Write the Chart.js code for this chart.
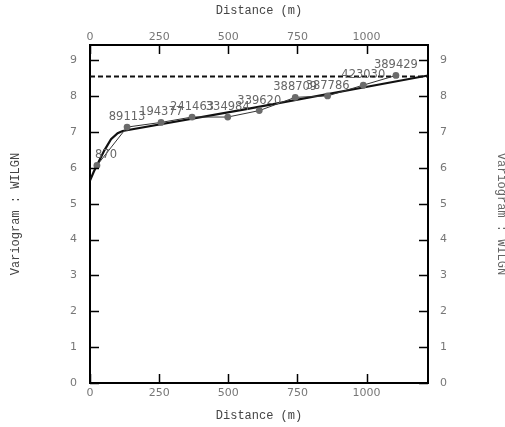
<!DOCTYPE html>
<html><head><meta charset="utf-8">
<script src="https://cdn.jsdelivr.net/npm/chart.js@4"></script>
<style>html,body{margin:0;padding:0;background:#fff}</style>
</head><body>
<canvas id="c" width="505" height="427"></canvas>
<script>
// Experimental variogram (lag distance, gamma, number of pairs)
const lagDistances = [25, 134, 257, 369, 498, 612, 742, 859, 988, 1106];
const lagGammas = [6.07, 7.14, 7.27, 7.42, 7.42, 7.60, 7.97, 8.01, 8.31, 8.58];
const pairCounts = ['870', '89113', '194377', '241463', '334984', '339620', '388709', '387786', '423030', '389429'];
// Fitted model curve
const modelDistances = [0, 14, 28, 52, 76, 100, 118, 570, 1222];
const modelGammas = [5.65, 5.9, 6.12, 6.49, 6.8, 6.97, 7.03, 7.65, 8.58];
// Sill (dashed)
const sillLevel = 8.55;
// Axes
const xMin = 0, xMax = 1222;
const yMin = 0, yMax = 9.43;
const xTickValues = [0, 250, 500, 750, 1000];
const yTickValues = [0, 1, 2, 3, 4, 5, 6, 7, 8, 9];
const xTitle = 'Distance (m)';
const yTitle = 'Variogram : WILGN';

const tickFont = {family: 'DejaVu Sans', size: 11};
const titleFont = {family: 'Liberation Mono', size: 12};
const tickColor = '#777';
const titleColor = '#444';

const expData = lagDistances.map((d, i) => ({x: d, y: lagGammas[i]}));
const modelData = modelDistances.map((d, i) => ({x: d, y: modelGammas[i]}));
const sillData = [{x: xMin, y: sillLevel}, {x: xMax, y: sillLevel}];

function setTicks(values) {
  return function (scale) {
    scale.ticks = values.map(v => ({value: v}));
  };
}
const plainLabel = v => String(v);

const inwardTicks = {
  id: 'inwardTicks',
  afterDraw(chart) {
    const ctx = chart.ctx, a = chart.chartArea, L = 9;
    ctx.save();
    ctx.strokeStyle = '#000';
    ctx.lineWidth = 1.5;
    const s = chart.scales;
    ctx.beginPath();
    s.x.ticks.forEach(t => { const p = Math.round(s.x.getPixelForValue(t.value)) + 0.5; ctx.moveTo(p, a.bottom); ctx.lineTo(p, a.bottom - L); });
    s.x2.ticks.forEach(t => { const p = Math.round(s.x2.getPixelForValue(t.value)) + 0.5; ctx.moveTo(p, a.top); ctx.lineTo(p, a.top + L); });
    s.y.ticks.forEach(t => { const p = Math.round(s.y.getPixelForValue(t.value)) + 0.5; ctx.moveTo(a.left, p); ctx.lineTo(a.left + L, p); });
    s.y2.ticks.forEach(t => { const p = Math.round(s.y2.getPixelForValue(t.value)) + 0.5; ctx.moveTo(a.right, p); ctx.lineTo(a.right - L, p); });
    ctx.stroke();
    ctx.restore();
  }
};

const pairLabels = {
  id: 'pairLabels',
  afterDatasetsDraw(chart) {
    const ctx = chart.ctx, a = chart.chartArea;
    const meta = chart.getDatasetMeta(0);
    ctx.save();
    ctx.font = '11.5px "DejaVu Sans"';
    ctx.fillStyle = '#666';
    ctx.textAlign = 'center';
    ctx.textBaseline = 'alphabetic';
    meta.data.forEach((pt, i) => {
      const w = ctx.measureText(pairCounts[i]).width;
      let x = pt.x;
      x = Math.max(x, a.left + 5 + w / 2);
      ctx.fillText(pairCounts[i], x, pt.y - 7);
    });
    ctx.restore();
  }
};

new Chart(document.getElementById('c'), {
  type: 'scatter',
  data: {
    datasets: [
      {
        data: expData, showLine: true, borderColor: '#333', borderWidth: 1,
        pointRadius: 3.4, pointBackgroundColor: '#6b6b6b', pointBorderWidth: 0, tension: 0
      },
      {
        data: modelData, showLine: true, borderColor: '#111', borderWidth: 2.2,
        pointRadius: 0, tension: 0
      },
      {
        data: sillData, showLine: true, borderColor: '#111', borderWidth: 2,
        borderDash: [5, 3], pointRadius: 0
      }
    ]
  },
  options: {
    responsive: false,
    animation: false,
    events: [],
    layout: {padding: 0},
    plugins: {legend: {display: false}, tooltip: {enabled: false}, title: {display: false}},
    scales: {
      x: {
        type: 'linear', position: 'bottom', min: xMin, max: xMax,
        afterBuildTicks: setTicks(xTickValues),
        afterFit(s) { s.height = 44; },
        ticks: {callback: plainLabel, font: tickFont, color: tickColor, padding: 4, maxRotation: 0, autoSkip: false},
        grid: {display: false, drawTicks: false},
        border: {display: true, color: '#000', width: 2},
        title: {display: true, text: xTitle, font: titleFont, color: titleColor, padding: {top: 0, bottom: 4}}
      },
      x2: {
        type: 'linear', position: 'top', min: xMin, max: xMax,
        afterBuildTicks: setTicks(xTickValues),
        afterFit(s) { s.height = 45; },
        ticks: {callback: plainLabel, font: tickFont, color: tickColor, padding: 1, maxRotation: 0, autoSkip: false},
        grid: {display: false, drawTicks: false},
        border: {display: true, color: '#000', width: 2},
        title: {display: true, text: xTitle, font: titleFont, color: titleColor, padding: {top: 4, bottom: 0}}
      },
      y: {
        type: 'linear', position: 'left', min: yMin, max: yMax,
        afterBuildTicks: setTicks(yTickValues),
        afterFit(s) { s.width = 90; },
        ticks: {callback: plainLabel, font: tickFont, color: tickColor, padding: 13, autoSkip: false},
        grid: {display: false, drawTicks: false},
        border: {display: true, color: '#000', width: 2},
        title: {display: true, text: yTitle, font: titleFont, color: titleColor, padding: {top: 9, bottom: 0}}
      },
      y2: {
        type: 'linear', position: 'right', min: yMin, max: yMax,
        afterBuildTicks: setTicks(yTickValues),
        afterFit(s) { s.width = 77; },
        ticks: {callback: plainLabel, font: tickFont, color: tickColor, padding: 12, autoSkip: false},
        grid: {display: false, drawTicks: false},
        border: {display: true, color: '#000', width: 2},
        title: {display: true, text: yTitle, font: titleFont, color: '#666', padding: {top: -3, bottom: 0}}
      }
    }
  },
  plugins: [inwardTicks, pairLabels]
});
</script>
</body></html>
